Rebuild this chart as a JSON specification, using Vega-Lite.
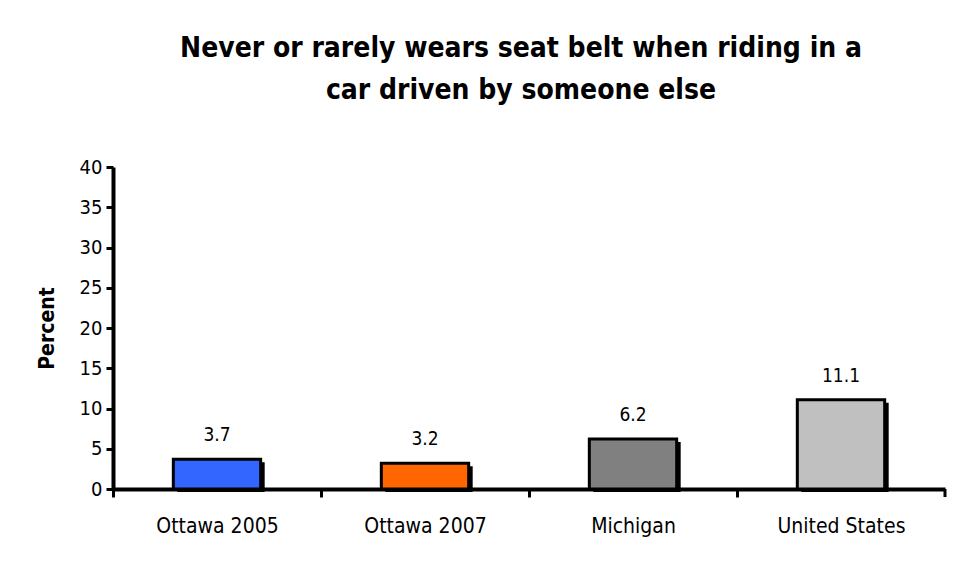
{
  "$schema": "https://vega.github.io/schema/vega-lite/v6.json",
  "autosize": {"type": "none"},
  "width": 832,
  "height": 322,
  "padding": {"left": 113, "top": 167, "right": 14, "bottom": 80},
  "background": "white",
  "title": {
    "text": ["Never or rarely wears seat belt when riding in a", "car driven by someone else"],
    "fontSize": 28,
    "font": "DejaVu Sans Condensed",
    "fontWeight": "bold",
    "color": "black",
    "lineHeight": 42,
    "offset": 52,
    "dx": -8,
    "anchor": "middle"
  },
  "data": {
    "values": [
      {"region": "Ottawa 2005", "value": 3.7, "label": "3.7"},
      {"region": "Ottawa 2007", "value": 3.2, "label": "3.2"},
      {"region": "Michigan", "value": 6.2, "label": "6.2"},
      {"region": "United States", "value": 11.1, "label": "11.1"}
    ]
  },
  "encoding": {
    "x": {
      "field": "region", "type": "nominal", "sort": null,
      "scale": {"paddingInner": 0.58, "paddingOuter": 0.29},
      "axis": {
        "title": null, "labelAngle": 0, "ticks": true, "tickOffset": -104, "labelOffset": 104,
        "domainWidth": 4, "domainColor": "black", "tickColor": "black", "tickWidth": 3, "tickSize": 8,
        "labelFontSize": 21, "labelFont": "DejaVu Sans Condensed", "labelColor": "black", "labelPadding": 18
      }
    },
    "y": {
      "field": "value", "type": "quantitative",
      "scale": {"domain": [0, 40]},
      "axis": {
        "title": "Percent", "titleFontSize": 21, "titleFont": "DejaVu Sans Condensed", "titleFontWeight": "bold", "titleColor": "black", "titlePadding": 22,
        "values": [0, 5, 10, 15, 20, 25, 30, 35, 40], "grid": false,
        "domainWidth": 4, "domainColor": "black", "tickColor": "black", "tickWidth": 3, "tickSize": 7,
        "labelFontSize": 20, "labelFont": "DejaVu Sans Condensed", "labelColor": "black", "labelPadding": 4
      }
    }
  },
  "layer": [
    {
      "mark": {"type": "bar", "color": "black", "xOffset": 4, "yOffset": 3},
      "encoding": {}
    },
    {
      "mark": {"type": "bar", "stroke": "black", "strokeWidth": 3},
      "encoding": {
        "color": {
          "field": "region", "type": "nominal", "sort": null, "legend": null,
          "scale": {"domain": ["Ottawa 2005", "Ottawa 2007", "Michigan", "United States"], "range": ["#3366FF", "#FF6600", "#808080", "#C0C0C0"]}
        }
      }
    },
    {
      "mark": {"type": "text", "baseline": "bottom", "dy": -14, "fontSize": 19, "font": "DejaVu Sans Condensed", "color": "black"},
      "encoding": {"text": {"field": "label"}}
    },
    {
      "mark": {"type": "rule", "color": "black", "strokeWidth": 3, "clip": false, "xOffset": 104},
      "transform": [{"filter": "datum.region === 'United States'"}],
      "encoding": {
        "y": {"datum": 0},
        "y2": {"datum": -1}
      }
    }
  ],
  "config": {"view": {"stroke": null}}
}
